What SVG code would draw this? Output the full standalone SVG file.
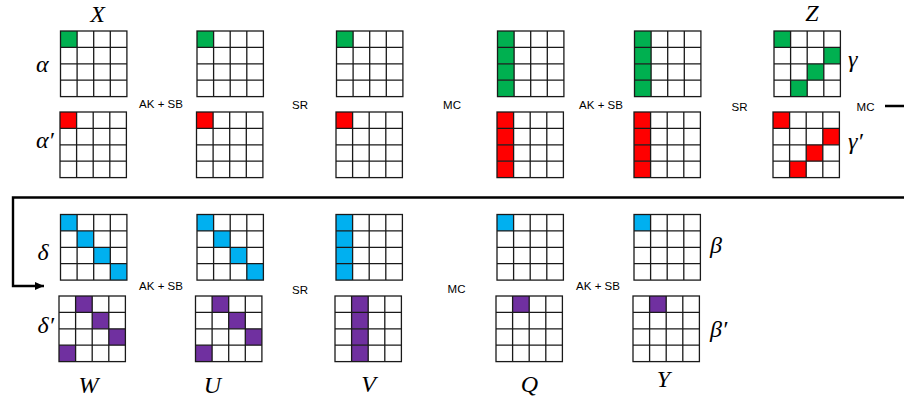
<svg xmlns="http://www.w3.org/2000/svg" xmlns:xlink="http://www.w3.org/1999/xlink" width="904" height="403" viewBox="0 0 904 403">
<style>
.g{fill:none;stroke:#1a1a1a;stroke-width:1.3}
.gr{fill:#00B050}
.rd{fill:#FF0000}
.bl{fill:#00B0F0}
.pu{fill:#7030A0}
.op{font-family:"Liberation Sans",Arial,sans-serif;font-size:11.5px;fill:#000;text-anchor:middle}
.m{font-family:"Liberation Serif","DejaVu Serif",serif;font-style:italic;font-size:24px;fill:#000}
.mc{text-anchor:middle}
.cn{fill:none;stroke:#000;stroke-width:2.4}
</style>
<defs>
<g id="grid">
<rect class="g" x="0" y="0" width="66.4" height="65.6"/>
<path class="g" d="M16.6 0V65.6M33.2 0V65.6M49.8 0V65.6M0 16.4H66.4M0 32.8H66.4M0 49.2H66.4"/>
</g>
<rect id="cg" class="gr" width="16.6" height="16.4"/>
<rect id="cr" class="rd" width="16.6" height="16.4"/>
<rect id="cb" class="bl" width="16.6" height="16.4"/>
<rect id="cp" class="pu" width="16.6" height="16.4"/>
<marker id="ah" markerWidth="9" markerHeight="8" refX="9" refY="4" orient="auto" markerUnits="userSpaceOnUse">
<path d="M0 0L9 4L0 8Z" fill="#000"/>
</marker>
</defs>

<g id="connectors">
<path class="cn" d="M885 106H906V197.5H13V286H44" marker-end="url(#ah)"/>
</g>

<!-- Row 1 (green) -->
<g id="A1" transform="translate(60.5,31)"><use href="#cg"/><use href="#grid"/></g>
<g id="A2" transform="translate(197,31)"><use href="#cg"/><use href="#grid"/></g>
<g id="A3" transform="translate(336.5,31)"><use href="#cg"/><use href="#grid"/></g>
<g id="A4" transform="translate(497.5,31)"><use href="#cg"/><use href="#cg" y="16.4"/><use href="#cg" y="32.8"/><use href="#cg" y="49.2"/><use href="#grid"/></g>
<g id="A5" transform="translate(634.5,31)"><use href="#cg"/><use href="#cg" y="16.4"/><use href="#cg" y="32.8"/><use href="#cg" y="49.2"/><use href="#grid"/></g>
<g id="A6" transform="translate(774,31)"><use href="#cg"/><use href="#cg" x="49.8" y="16.4"/><use href="#cg" x="33.2" y="32.8"/><use href="#cg" x="16.6" y="49.2"/><use href="#grid"/></g>

<!-- Row 2 (red) -->
<g id="B1" transform="translate(60,112)"><use href="#cr"/><use href="#grid"/></g>
<g id="B2" transform="translate(196.5,112)"><use href="#cr"/><use href="#grid"/></g>
<g id="B3" transform="translate(336,112)"><use href="#cr"/><use href="#grid"/></g>
<g id="B4" transform="translate(497,112)"><use href="#cr"/><use href="#cr" y="16.4"/><use href="#cr" y="32.8"/><use href="#cr" y="49.2"/><use href="#grid"/></g>
<g id="B5" transform="translate(634,112)"><use href="#cr"/><use href="#cr" y="16.4"/><use href="#cr" y="32.8"/><use href="#cr" y="49.2"/><use href="#grid"/></g>
<g id="B6" transform="translate(773,112)"><use href="#cr"/><use href="#cr" x="49.8" y="16.4"/><use href="#cr" x="33.2" y="32.8"/><use href="#cr" x="16.6" y="49.2"/><use href="#grid"/></g>

<!-- Row 3 (blue) -->
<g id="C1" transform="translate(60.5,214.5)"><use href="#cb"/><use href="#cb" x="16.6" y="16.4"/><use href="#cb" x="33.2" y="32.8"/><use href="#cb" x="49.8" y="49.2"/><use href="#grid"/></g>
<g id="C2" transform="translate(197,214.5)"><use href="#cb"/><use href="#cb" x="16.6" y="16.4"/><use href="#cb" x="33.2" y="32.8"/><use href="#cb" x="49.8" y="49.2"/><use href="#grid"/></g>
<g id="C3" transform="translate(336,214.5)"><use href="#cb"/><use href="#cb" y="16.4"/><use href="#cb" y="32.8"/><use href="#cb" y="49.2"/><use href="#grid"/></g>
<g id="C4" transform="translate(497,214.5)"><use href="#cb"/><use href="#grid"/></g>
<g id="C5" transform="translate(634,214.5)"><use href="#cb"/><use href="#grid"/></g>

<!-- Row 4 (purple) -->
<g id="D1" transform="translate(59,296)"><use href="#cp" x="16.6"/><use href="#cp" x="33.2" y="16.4"/><use href="#cp" x="49.8" y="32.8"/><use href="#cp" y="49.2"/><use href="#grid"/></g>
<g id="D2" transform="translate(195.5,296)"><use href="#cp" x="16.6"/><use href="#cp" x="33.2" y="16.4"/><use href="#cp" x="49.8" y="32.8"/><use href="#cp" y="49.2"/><use href="#grid"/></g>
<g id="D3" transform="translate(335,296)"><use href="#cp" x="16.6"/><use href="#cp" x="16.6" y="16.4"/><use href="#cp" x="16.6" y="32.8"/><use href="#cp" x="16.6" y="49.2"/><use href="#grid"/></g>
<g id="D4" transform="translate(496,296)"><use href="#cp" x="16.6"/><use href="#grid"/></g>
<g id="D5" transform="translate(633,296)"><use href="#cp" x="16.6"/><use href="#grid"/></g>

<!-- operation labels -->
<g id="ops">
<text class="op" x="161" y="108">AK + SB</text>
<text class="op" x="300" y="108.5">SR</text>
<text class="op" x="452" y="108.5">MC</text>
<text class="op" x="601" y="108.5">AK + SB</text>
<text class="op" x="739.5" y="110.5">SR</text>
<text class="op" x="865.5" y="111">MC</text>
<text class="op" x="161" y="290">AK + SB</text>
<text class="op" x="300" y="294">SR</text>
<text class="op" x="456.5" y="293">MC</text>
<text class="op" x="598" y="290">AK + SB</text>
</g>

<!-- math labels -->
<g id="labels">
<text class="m mc" x="97.5" y="22">X</text>
<text class="m mc" x="812" y="21">Z</text>
<text class="m" x="36" y="71.5">α</text>
<text class="m" x="36" y="148">α′</text>
<text class="m" x="848" y="66.5">γ</text>
<text class="m" x="848" y="149">γ′</text>
<text class="m" x="37.5" y="260">δ</text>
<text class="m" x="37.5" y="333">δ′</text>
<text class="m" x="710" y="252.5">β</text>
<text class="m" x="710" y="336.5">β′</text>
<text class="m mc" x="88.5" y="393">W</text>
<text class="m mc" x="212.5" y="393">U</text>
<text class="m mc" x="368.5" y="392">V</text>
<text class="m mc" x="529.5" y="391.5">Q</text>
<text class="m mc" x="663.5" y="387">Y</text>
</g>
</svg>
